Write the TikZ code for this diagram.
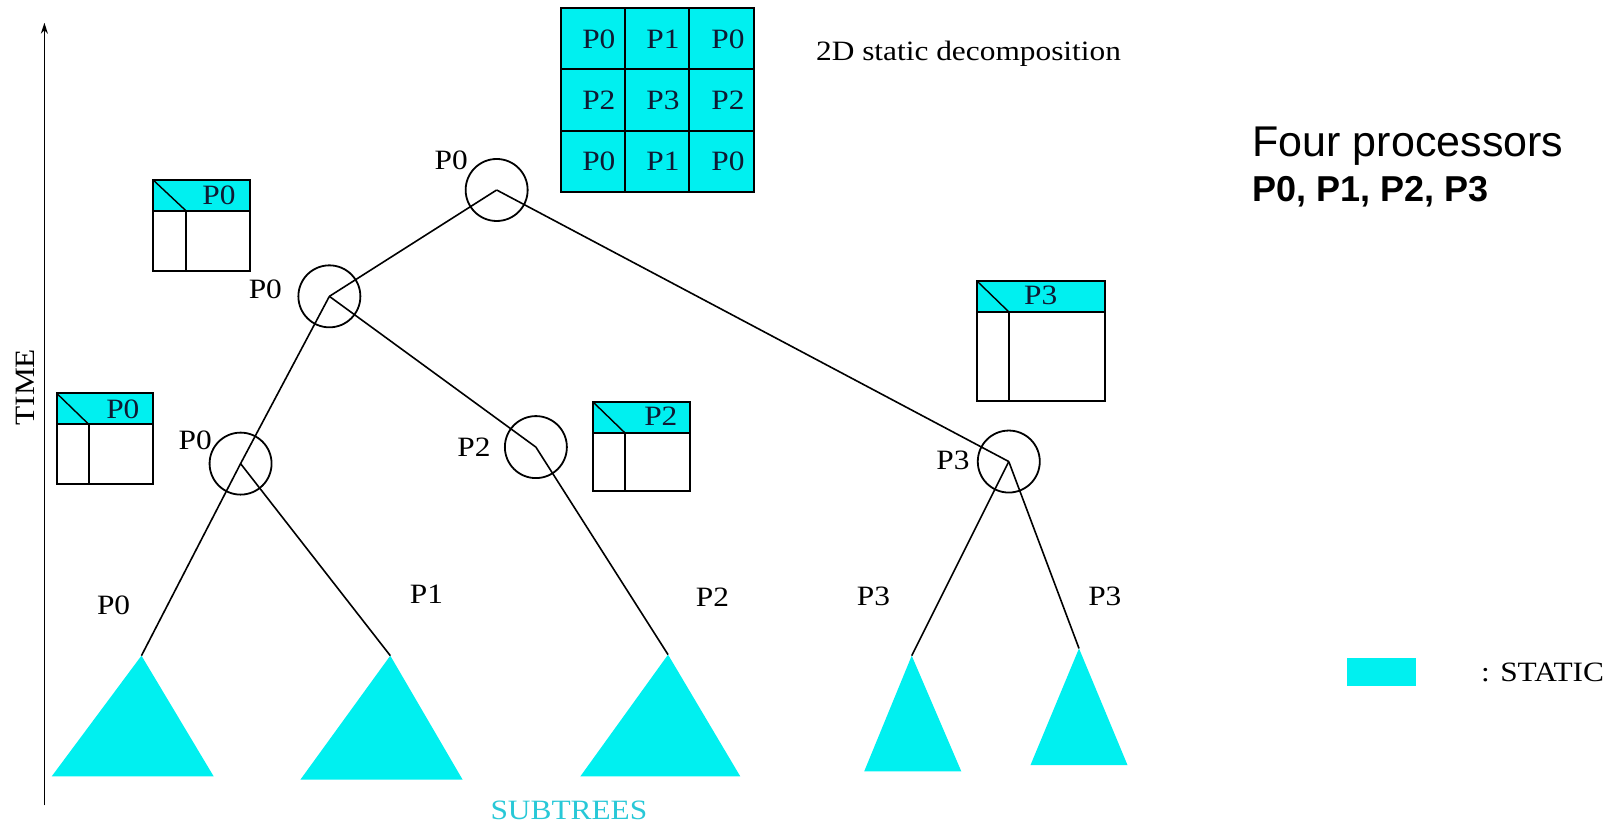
\documentclass[tikz,border=0pt]{standalone}
\usepackage{fontspec}
\setmainfont[FakeStretch=1.12]{Liberation Serif}
\newfontfamily\notefont{Liberation Sans}
\usetikzlibrary{arrows.meta}
\definecolor{stat}{RGB}{0,240,240}
\definecolor{subt}{RGB}{40,200,215}
\definecolor{ink}{RGB}{15,25,50}

% processor table: #1 left, #2 top, #3 right, #4 bottom, #5 divider x
\newcommand\ptable[5]{%
  \fill[stat] (#1,#2) rectangle (#3,#2+30);
  \draw[box] (#1,#2) rectangle (#3,#4);
  \draw[box] (#1,#2+30) -- (#3,#2+30);
  \draw[box] (#5,#2+30) -- (#5,#4);
  \draw[line width=1.4pt] (#1,#2) -- (#5,#2+30);
}

\begin{document}
\begin{tikzpicture}[x=1.0325pt,y=-1.0325pt,
  proc/.style={circle,draw,line width=1.8pt,minimum size=62pt,inner sep=0pt},
  lbl/.style={font=\fontsize{28}{30}\selectfont,inner sep=0pt},
  cell/.style={lbl,text=ink},
  edge/.style={line width=1.6pt},
  box/.style={draw,line width=2pt},
]
\useasboundingbox (0,0) rectangle (1568,799);

% time axis
\coordinate (tbot) at (43,780);
\coordinate (ttop) at (43,22);
\draw[line width=1.7pt,-{Stealth[length=11pt,width=7pt]}] (tbot) -- (ttop);
\node[lbl,rotate=90] (time) at (25,375) {TIME};

% 2D static decomposition grid
\fill[stat] (543,8) rectangle (730,186);
\draw[box] (543,8) rectangle (730,186);
\draw[box] (605.3,8) -- (605.3,186) (667.7,8) -- (667.7,186)
           (543,67.3) -- (730,67.3) (543,126.7) -- (730,126.7);
\node[cell] (g11) at (580,38) {P0};
\node[cell] (g12) at (642,38) {P1};
\node[cell] (g13) at (705,38) {P0};
\node[cell] (g21) at (580,97) {P2};
\node[cell] (g22) at (642,97) {P3};
\node[cell] (g23) at (705,97) {P2};
\node[cell] (g31) at (580,156) {P0};
\node[cell] (g32) at (642,156) {P1};
\node[cell] (g33) at (705,156) {P0};
\node[lbl] (decomp) at (938,52) {2D static decomposition};

% processor tables
\ptable{148}{174}{242}{262}{180}
\node[cell] (ta) at (212,189) {P0};
\ptable{55}{381}{148}{469}{86}
\node[cell] (tb) at (119,396) {P0};
\ptable{574}{389}{668}{476}{605}
\node[cell] (tc) at (640,403) {P2};
\ptable{946}{272}{1070}{388}{977}
\node[cell] (td) at (1008,286) {P3};

% tree nodes
\node[proc] (root) at (481,184) {};
\node[proc] (l1) at (319,287) {};
\node[proc] (l2a) at (233,449) {};
\node[proc] (l2b) at (519,433) {};
\node[proc] (l2c) at (977,447) {};
\node[lbl] (nroot) at (437,155) {P0};
\node[lbl] (nl1) at (257,280) {P0};
\node[lbl] (nl2a) at (189,426) {P0};
\node[lbl] (nl2b) at (459,433) {P2};
\node[lbl] (nl2c) at (923,446) {P3};

% subtree apexes
\coordinate (s1) at (137,635);
\coordinate (s2) at (378,635);
\coordinate (s3) at (647,634);
\coordinate (s4) at (883,635);
\coordinate (s5) at (1045,628);

% static subtrees
\fill[stat] (s1) -- (207,752) -- (50,752) -- cycle;
\fill[stat] (s2) -- (448,755) -- (291,755) -- cycle;
\fill[stat] (s3) -- (717,752) -- (562,752) -- cycle;
\fill[stat] (s4) -- (931,747) -- (837,747) -- cycle;
\fill[stat] (s5) -- (1092,741) -- (998,741) -- cycle;

% tree edges
\draw[edge] (root.center) -- (l1.center);
\draw[edge] (root.center) -- (l2c.center);
\draw[edge] (l1.center) -- (l2a.center) -- (s1);
\draw[edge] (l1.center) -- (l2b.center);
\draw[edge] (l2a.center) -- (s2);
\draw[edge] (l2b.center) -- (s3);
\draw[edge] (l2c.center) -- (s4);
\draw[edge] (l2c.center) -- (s5);

% subtree owners
\node[lbl] (p1) at (110,586) {P0};
\node[lbl] (p2) at (413,576) {P1};
\node[lbl] (p3) at (690,578) {P2};
\node[lbl] (p4) at (846,578) {P3};
\node[lbl] (p5) at (1070,578) {P3};
\node[lbl,text=subt] (subtrees) at (551,785) {SUBTREES};

% legend and note
\fill[stat] (1305,637) rectangle (1371,664);
\node[lbl] (legend) at (1494,651) {: STATIC};
\node[anchor=base west,inner sep=0pt,font=\notefont\fontsize{43}{46}\selectfont] (four) at (1213,152) {Four processors};
\node[anchor=base west,inner sep=0pt,font=\notefont\bfseries\fontsize{36}{38}\selectfont] (plist) at (1213,195.5) {P0, P1, P2, P3};
\end{tikzpicture}
\end{document}
